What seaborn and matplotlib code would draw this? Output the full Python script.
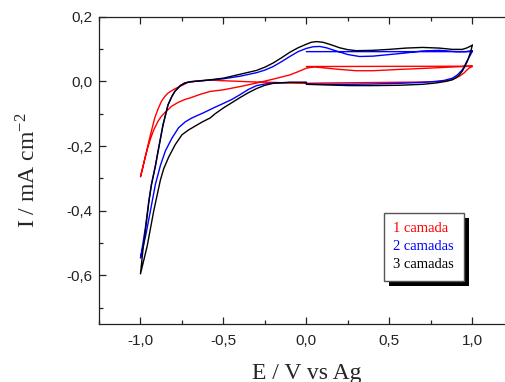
import matplotlib
matplotlib.use('Agg')
import matplotlib.pyplot as plt
import pandas as pd
import seaborn as sns
from matplotlib.ticker import FuncFormatter, MultipleLocator
from matplotlib.patches import Rectangle

# 1 camada
red_flat_e = [0.0, 1.0]
red_flat_i = [0.046, 0.047]
red_down_e = [1.0, 0.98, 0.965, 0.95, 0.925, 0.90, 0.86, 0.82, 0.7, 0.5, 0.3, 0.1, 0.0,
              -0.1, -0.2, -0.3, -0.4, -0.5, -0.58, -0.65, -0.713, -0.74, -0.773, -0.80,
              -0.834, -0.854, -0.874, -0.894, -0.914, -0.93, -0.944, -0.955, -0.97, -0.985, -1.0]
red_down_i = [0.046, 0.041, 0.034, 0.026, 0.017, 0.010, 0.003, 0.0, -0.002, -0.003, -0.004, -0.005, -0.006,
              -0.005, -0.003, -0.002, 0.0, 0.002, 0.004, 0.002, -0.003, -0.010, -0.018, -0.025,
              -0.036, -0.047, -0.062, -0.085, -0.113, -0.145, -0.174, -0.198, -0.230, -0.265, -0.295]
red_up_e = [-1.0, -0.985, -0.97, -0.955, -0.94, -0.92, -0.894, -0.874, -0.854, -0.833, -0.813,
            -0.773, -0.733, -0.70, -0.64, -0.58, -0.5, -0.4, -0.3, -0.2, -0.1, -0.05, 0.0,
            0.05, 0.1, 0.2, 0.3, 0.4, 0.56, 0.7, 0.86, 0.95, 1.0]
red_up_i = [-0.295, -0.262, -0.232, -0.203, -0.178, -0.150, -0.123, -0.108, -0.097, -0.087, -0.077,
            -0.065, -0.056, -0.051, -0.040, -0.031, -0.026, -0.016, -0.005, 0.007, 0.020, 0.030, 0.041,
            0.045, 0.042, 0.037, 0.033, 0.033, 0.037, 0.040, 0.044, 0.046, 0.047]

# 2 camadas
blue_flat_e = [0.0, 1.0]
blue_flat_i = [0.092, 0.092]
blue_down_e = [1.0, 0.99, 0.98, 0.97, 0.955, 0.94, 0.91, 0.88, 0.83, 0.78, 0.70, 0.56, 0.40, 0.26, 0.12, 0.0,
               0.0, -0.1, -0.2, -0.25, -0.30, -0.35, -0.40, -0.45, -0.50, -0.56, -0.62, -0.69, -0.73,
               -0.77, -0.81, -0.85, -0.88, -0.91, -0.94, -0.97, -1.0]
blue_down_i = [0.094, 0.083, 0.074, 0.065, 0.050, 0.036, 0.020, 0.010, 0.003, 0.0, -0.003, -0.006, -0.008,
               -0.009, -0.009, -0.008,
               -0.003, -0.003, -0.005, -0.008, -0.013, -0.025, -0.041, -0.056, -0.068, -0.082, -0.097,
               -0.113, -0.125, -0.143, -0.175, -0.215, -0.26, -0.318, -0.40, -0.48, -0.546]
blue_up_e = [-1.0, -0.985, -0.97, -0.95, -0.934, -0.91, -0.894, -0.864, -0.834, -0.81, -0.793, -0.76,
             -0.733, -0.70, -0.65, -0.58, -0.5, -0.4, -0.3, -0.25, -0.2, -0.15, -0.1, -0.05, 0.0, 0.04, 0.08,
             0.12, 0.18, 0.25, 0.32, 0.40, 0.50, 0.60, 0.70, 0.80, 0.90, 0.96, 1.0]
blue_up_i = [-0.546, -0.50, -0.45, -0.37, -0.318, -0.26, -0.215, -0.133, -0.072, -0.045, -0.031, -0.013,
             -0.005, -0.001, 0.001, 0.004, 0.008, 0.016, 0.027, 0.035, 0.046, 0.061, 0.077, 0.092, 0.102, 0.107,
             0.108, 0.104, 0.094, 0.083, 0.077, 0.078, 0.083, 0.088, 0.094, 0.096, 0.092, 0.092, 0.095]

# 3 camadas
black_down_e = [1.0, 0.99, 0.98, 0.97, 0.955, 0.94, 0.92, 0.90, 0.88, 0.84, 0.78, 0.70, 0.56, 0.40, 0.26,
                0.12, 0.0, 0.0, -0.1, -0.2, -0.25, -0.30, -0.35, -0.40, -0.45, -0.50, -0.55, -0.58,
                -0.63, -0.67, -0.71, -0.75, -0.79, -0.83, -0.86, -0.88, -0.92, -0.96, -1.0]
black_down_i = [0.112, 0.092, 0.077, 0.062, 0.046, 0.032, 0.019, 0.011, 0.005, 0.0, -0.005, -0.009, -0.012,
                -0.013, -0.013, -0.011, -0.009, -0.003, -0.003, -0.006, -0.012, -0.022, -0.035, -0.050,
                -0.066, -0.082, -0.100, -0.113, -0.126, -0.138, -0.150, -0.165, -0.195, -0.234, -0.27,
                -0.305, -0.40, -0.51, -0.595]
black_up_e = [-1.0, -0.985, -0.97, -0.95, -0.934, -0.91, -0.894, -0.864, -0.834, -0.81, -0.793, -0.76,
              -0.733, -0.70, -0.65, -0.58, -0.5, -0.4, -0.3, -0.25, -0.2, -0.15, -0.1, -0.05, 0.0, 0.03, 0.06,
              0.10, 0.15, 0.20, 0.25, 0.30, 0.40, 0.50, 0.60, 0.70, 0.80, 0.88, 0.94, 0.97, 1.0]
black_up_i = [-0.595, -0.52, -0.46, -0.375, -0.32, -0.262, -0.217, -0.135, -0.073, -0.046, -0.031, -0.013,
              -0.005, -0.001, 0.001, 0.005, 0.010, 0.022, 0.034, 0.044, 0.057, 0.073, 0.090, 0.104, 0.115, 0.121,
              0.123, 0.121, 0.113, 0.104, 0.098, 0.095, 0.096, 0.099, 0.103, 0.105, 0.103, 0.099, 0.099,
              0.104, 0.112]

labels = ['1 camada', '2 camadas', '3 camadas']
colors = ['#ff0000', '#0000ff', '#000000']

curves = [
    (red_flat_e + red_down_e + red_up_e, red_flat_i + red_down_i + red_up_i),
    (blue_flat_e + blue_down_e + blue_up_e, blue_flat_i + blue_down_i + blue_up_i),
    (black_down_e + black_up_e, black_down_i + black_up_i),
]

sns.set_style('ticks')
plt.rcParams['font.family'] = ['Liberation Sans', 'DejaVu Sans']
plt.rcParams['mathtext.fontset'] = 'stix'

fig = plt.figure(figsize=(5.06, 3.82), dpi=100)
ax = fig.add_axes([99 / 506, 58 / 382, 414.8 / 506, 307.3 / 382])

for (e, i), lab, col in zip(curves, labels, colors):
    df = pd.DataFrame({'E': e, 'I': i})
    sns.lineplot(data=df, x='E', y='I', sort=False, estimator=None, color=col,
                 linewidth=1.0, label=lab, ax=ax)

ax.set_xlim(-1.25, 1.25)
ax.set_ylim(-0.75, 0.2)


def virgula(v, pos):
    if abs(v) < 1e-9:
        v = 0.0
    return f'{v:.1f}'.replace('.', ',')


ax.xaxis.set_major_locator(MultipleLocator(0.5))
ax.xaxis.set_minor_locator(MultipleLocator(0.25))
ax.yaxis.set_major_locator(MultipleLocator(0.2))
ax.yaxis.set_minor_locator(MultipleLocator(0.1))
ax.xaxis.set_major_formatter(FuncFormatter(virgula))
ax.yaxis.set_major_formatter(FuncFormatter(virgula))
ax.tick_params(which='both', direction='in', top=True, right=False, width=0.9, colors='#222222',
               labelcolor='#222222', labelsize=11)
ax.tick_params(which='major', length=5, pad=5)
ax.tick_params(which='minor', length=3)
ax.tick_params(axis='x', which='major', pad=7)
for s in ax.spines.values():
    s.set_linewidth(0.9)
    s.set_color('#222222')
ax.spines['right'].set_visible(False)

ax.set_xlabel('E / V vs Ag', family='Liberation Serif', fontsize=17, labelpad=11)
ax.set_ylabel(r'I / mA cm$^{\mathregular{-2}}$', family='Liberation Serif', fontsize=17, labelpad=18)

leg = ax.legend(loc='upper left', bbox_to_anchor=(384 / 506, 1 - 212.7 / 382),
                bbox_transform=fig.transFigure, borderaxespad=0, handlelength=0,
                handletextpad=0, labelcolor='linecolor', fancybox=False, framealpha=1,
                edgecolor='#555555', prop={'family': 'Liberation Serif', 'size': 10.5},
                labelspacing=0.33, borderpad=0.65)
for h in leg.legend_handles:
    h.set_visible(False)
leg.get_frame().set_linewidth(1.0)
leg.set_zorder(10)

fig.canvas.draw()
bb = leg.get_window_extent()
shadow = Rectangle((bb.x0 + 5, bb.y0 - 5), bb.width, bb.height, transform=None,
                   facecolor='black', edgecolor='none', zorder=9)
ax.add_artist(shadow)
shadow.set_clip_on(False)

fig.savefig('out.png', dpi=100)
